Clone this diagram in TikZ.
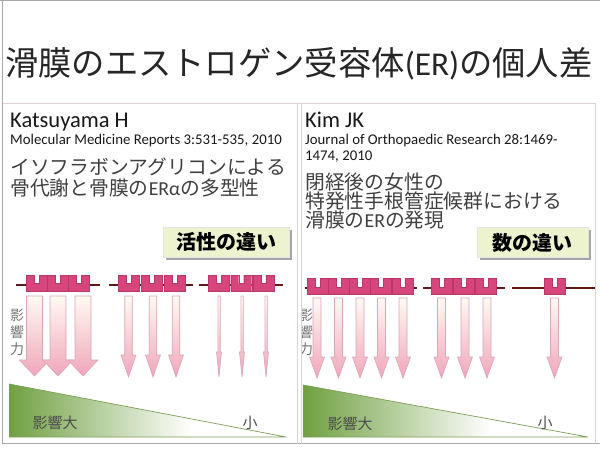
\documentclass[tikz,border=0pt]{standalone}
\usepackage{fontspec}
\setmainfont{Carlito}
\newfontfamily\cjk{Noto Sans CJK JP}
\usetikzlibrary{shadows}
\newcommand\myfs[1]{\fontsize{#1}{#1}\selectfont}
\definecolor{rec}{RGB}{214,69,124}
\definecolor{recline}{RGB}{185,55,105}
\definecolor{memb}{RGB}{95,25,25}
\definecolor{atop}{RGB}{255,250,242}
\definecolor{abot}{RGB}{240,166,188}
\definecolor{aline}{RGB}{218,165,182}
\definecolor{gdark}{RGB}{112,160,66}
\definecolor{gline}{RGB}{125,160,85}
\definecolor{boxfill}{RGB}{236,243,206}
\definecolor{panel}{RGB}{222,208,213}
\definecolor{frame}{RGB}{170,170,170}
\pgfdeclarehorizontalshading{greenfade}{100bp}{color(0bp)=(gdark); color(25bp)=(gdark); color(58bp)=(white); color(100bp)=(white)}
\newcommand\rcp[2]{\filldraw[fill=rec, draw=recline, line width=0.4] (#1,#2) -- ++(8,0) -- ++(0,8.5) -- ++(5,0) -- ++(0,-8.5) -- ++(8,0) -- ++(0,16) -- ++(-21,0) -- cycle;}
\newcommand\barrow[6]{\shadedraw[top color=atop, bottom color=abot, draw=aline, line width=0.6] ({#1-#5/2},#2) -- ({#1+#5/2},#2) -- ({#1+#5/2},#3) -- ({#1+#6/2},#3) -- (#1,#4) -- ({#1-#6/2},#3) -- ({#1-#5/2},#3) -- cycle;}
\tikzset{
  jp/.style={anchor=west, inner sep=0, text=black!75, font=\cjk\myfs{19.8}},
  lat/.style={anchor=base west, inner sep=0, text=black!90},
  tagbox/.style={fill=boxfill, draw=black!10, line width=0.3, inner sep=0, minimum height=30, text=black, font=\cjk\bfseries\myfs{20}, drop shadow={shadow xshift=2.5pt, shadow yshift=-2.5pt, opacity=0.35, fill=black}},
  vlab/.style={inner sep=0, text=black!55, font=\cjk\myfs{14}},
  scalelab/.style={inner sep=0, text=black!70, font=\cjk\myfs{15}},
  membrane/.style={draw=memb, line width=1.4}
}
\begin{document}
\begin{tikzpicture}[x=1pt,y=-1pt]
\useasboundingbox (0,0) rectangle (600,450);
\fill[white] (0,0) rectangle (600,450);
% slide frame
\draw[frame, line width=1] (0,0.5) -- (600,0.5);
\draw[frame, line width=1] (2.5,0) -- (2.5,443.5) -- (600,443.5);
% panels
\draw[panel, line width=0.8] (3,103.5) -- (596,103.5);
\draw[panel, line width=0.8] (297.5,103.5) -- (297.5,443.5);
\draw[panel, line width=0.6] (301.5,103.5) -- (301.5,443.5);
\draw[panel, line width=0.8] (595.5,103.5) -- (595.5,443.5);
% title
\node[anchor=west, inner sep=0, text=black!85, font=\myfs{33.3}] (title) at (5,64) {{\cjk 滑膜のエストロゲン受容体}(ER){\cjk の個人差}};
% left texts
\node[lat, font=\myfs{22.5}] (au1) at (10,127) {Katsuyama H};
\node[lat, font=\myfs{14.8}] (ref1) at (10,144.5) {Molecular Medicine Reports 3:531-535, 2010};
\node[jp] (l1a) at (10,167) {イソフラボンアグリコンによる};
\node[jp] (l1b) at (10,188) {骨代謝と骨膜の{\rmfamily ERα}の多型性};
\node[tagbox, minimum width=126] (tag1) at (226,242) {活性の違い};
% right texts
\node[lat, font=\myfs{22.5}] (au2) at (305,127) {Kim JK};
\node[lat, font=\myfs{14.8}] (ref2a) at (305,144) {Journal of Orthopaedic Research 28:1469-};
\node[lat, font=\myfs{14.8}] (ref2b) at (305,160.5) {1474, 2010};
\node[jp] (r1a) at (305,182) {閉経後の女性の};
\node[jp] (r1b) at (305,201) {特発性手根管症候群における};
\node[jp] (r1c) at (305,220) {滑膜の{\rmfamily ER}の発現};
\node[tagbox, minimum width=111] (tag2) at (532.5,242.5) {数の違い};
% left triangle
\shade[shading=greenfade] (9,384) -- (9,437) -- (286,437) -- cycle;
\draw[gline, line width=0.7] (9,384) -- (286,437) -- (9,437);
\node[scalelab] (big1) at (55,423) {影響大};
\node[scalelab] (small1) at (250,423) {小};
% right triangle
\shade[shading=greenfade] (303,385) -- (303,437) -- (588,437) -- cycle;
\draw[gline, line width=0.7] (303,385) -- (588,437) -- (303,437);
\node[scalelab] (big2) at (350,423.5) {影響大};
\node[scalelab] (small2) at (545,423) {小};
% left influence labels
\node[vlab] (v1a) at (17,315) {影};
\node[vlab] (v1b) at (17,332) {響};
\node[vlab] (v1c) at (17,349) {力};
\begin{scope}
\clip (302,104) rectangle (595,443);
\node[vlab] (v2a) at (306,315) {影};
\node[vlab] (v2b) at (306,332) {響};
\node[vlab] (v2c) at (306,349) {力};
\end{scope}
% left membranes
\draw[membrane] (16,285) -- (100,285);
\draw[membrane] (109,285) -- (193,285);
\draw[membrane] (199,285) -- (283,285);
\rcp{26}{275}\rcp{47}{275}\rcp{68}{275}
\rcp{118.5}{275}\rcp{141.3}{275}\rcp{164.1}{275}
\rcp{208.5}{275}\rcp{230.7}{275}\rcp{252.9}{275}
% left arrows
\barrow{34.5}{296}{360}{376}{16}{30}
\barrow{58}{296}{360}{376}{16}{30}
\barrow{83}{296}{360}{376}{16}{30}
\barrow{128.5}{296}{355}{377}{7.5}{15}
\barrow{153}{296}{355}{377}{7.5}{15}
\barrow{176}{296}{355}{377}{7.5}{15}
\barrow{219}{296}{352}{377}{2.4}{5}
\barrow{242}{296}{352}{377}{2.4}{5}
\barrow{266}{296}{352}{377}{2.4}{5}
% right membranes
\draw[membrane] (305,288) -- (417,288);
\draw[membrane] (423,288) -- (505,288);
\draw[membrane] (512,288) -- (595,288);
\rcp{307}{278.5}\rcp{328.2}{278.5}\rcp{349.4}{278.5}\rcp{370.6}{278.5}\rcp{391.8}{278.5}
\rcp{431}{278.5}\rcp{453.3}{278.5}\rcp{475.6}{278.5}
\rcp{544}{278.5}
% right arrows
\barrow{317}{298}{357}{378}{8}{15}
\barrow{338.5}{298}{357}{378}{8}{15}
\barrow{360}{298}{357}{378}{8}{15}
\barrow{381.5}{298}{357}{378}{8}{15}
\barrow{403}{298}{357}{378}{8}{15}
\barrow{441.5}{298}{357}{378}{8}{15}
\barrow{465}{298}{357}{378}{8}{15}
\barrow{487}{298}{357}{378}{8}{15}
\barrow{554.5}{298}{357}{378}{8}{15}
\end{tikzpicture}
\end{document}
